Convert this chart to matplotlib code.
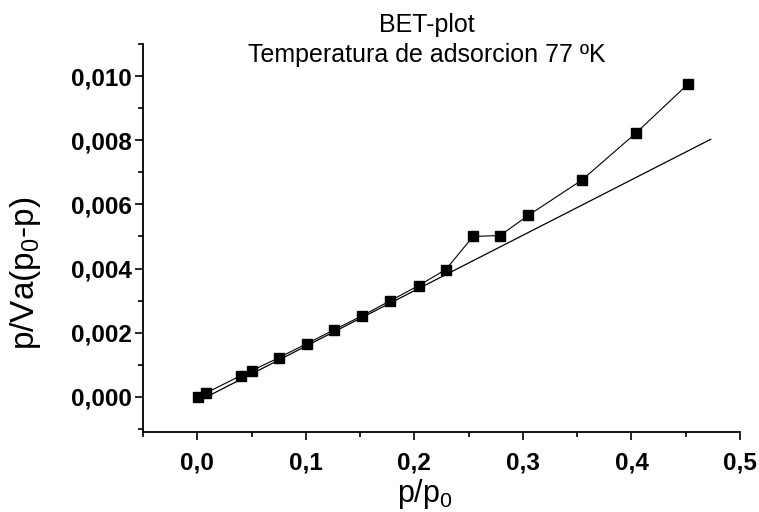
import matplotlib.pyplot as plt
from matplotlib.ticker import FixedLocator, MultipleLocator

p_rel = [0.001, 0.008, 0.040, 0.050, 0.075, 0.101, 0.126, 0.152, 0.178,
         0.204, 0.229, 0.254, 0.279, 0.305, 0.354, 0.404, 0.452]
bet_y = [0.0000, 0.00012, 0.00066, 0.00081, 0.00122, 0.00166, 0.00209,
         0.00253, 0.00300, 0.00347, 0.00397, 0.00500, 0.00503, 0.00566,
         0.00675, 0.00822, 0.00975]

# linear fit drawn through the low-pressure points
fit_x = [0.0, 0.473]
fit_y = [-0.00015, 0.00803]

xticks = [0.0, 0.1, 0.2, 0.3, 0.4, 0.5]
xtick_labels = ['0,0', '0,1', '0,2', '0,3', '0,4', '0,5']
yticks = [0.000, 0.002, 0.004, 0.006, 0.008, 0.010]
ytick_labels = ['0,000', '0,002', '0,004', '0,006', '0,008', '0,010']


def main():
    plt.rcParams['font.family'] = ['Liberation Sans', 'DejaVu Sans']
    plt.rcParams['mathtext.fontset'] = 'custom'
    plt.rcParams['mathtext.rm'] = 'Liberation Sans'
    plt.rcParams['mathtext.it'] = 'Liberation Sans'

    fig = plt.figure(figsize=(7.59, 5.12), dpi=100)
    ax = fig.add_axes([0.1884, 0.156, 0.7866, 0.758])

    ax.plot(fit_x, fit_y, color='black', linewidth=0.9)
    ax.plot(p_rel, bet_y, color='black', linewidth=0.8, marker='s',
            markersize=7, markerfacecolor='black', markeredgecolor='black')

    ax.set_xlim(-0.05, 0.5)
    ax.set_ylim(-0.0011, 0.011)

    ax.xaxis.set_major_locator(FixedLocator(xticks))
    ax.set_xticklabels(xtick_labels, fontweight='bold', fontsize=17.5)
    ax.xaxis.set_minor_locator(MultipleLocator(0.05))
    ax.yaxis.set_major_locator(FixedLocator(yticks))
    ax.set_yticklabels(ytick_labels, fontweight='bold', fontsize=17.5)
    ax.yaxis.set_minor_locator(MultipleLocator(0.001))

    ax.tick_params(which='major', direction='out', length=6, width=1.2)
    ax.tick_params(which='minor', direction='out', length=3.5, width=1.2)
    ax.tick_params(axis='x', which='major', pad=8)
    ax.tick_params(axis='y', which='major', pad=2)

    for side in ['top', 'right']:
        ax.spines[side].set_visible(False)
    for side in ['left', 'bottom']:
        ax.spines[side].set_linewidth(1.3)

    ax.set_xlabel(r'p/p$_0$', fontsize=22)
    ax.set_ylabel(r'p/Va(p$_0$-p)', fontsize=24)
    ax.xaxis.set_label_coords(0.473, -0.116)
    ax.yaxis.set_label_coords(-0.168, 0.41)

    ax.text(0.476, 1.031, 'BET-plot', transform=ax.transAxes,
            ha='center', va='baseline', fontsize=18)
    ax.text(0.476, 0.954, 'Temperatura de adsorcion 77 ºK',
            transform=ax.transAxes, ha='center', va='baseline', fontsize=18)

    fig.savefig('out.png', dpi=100)


if __name__ == "__main__":
    main()
